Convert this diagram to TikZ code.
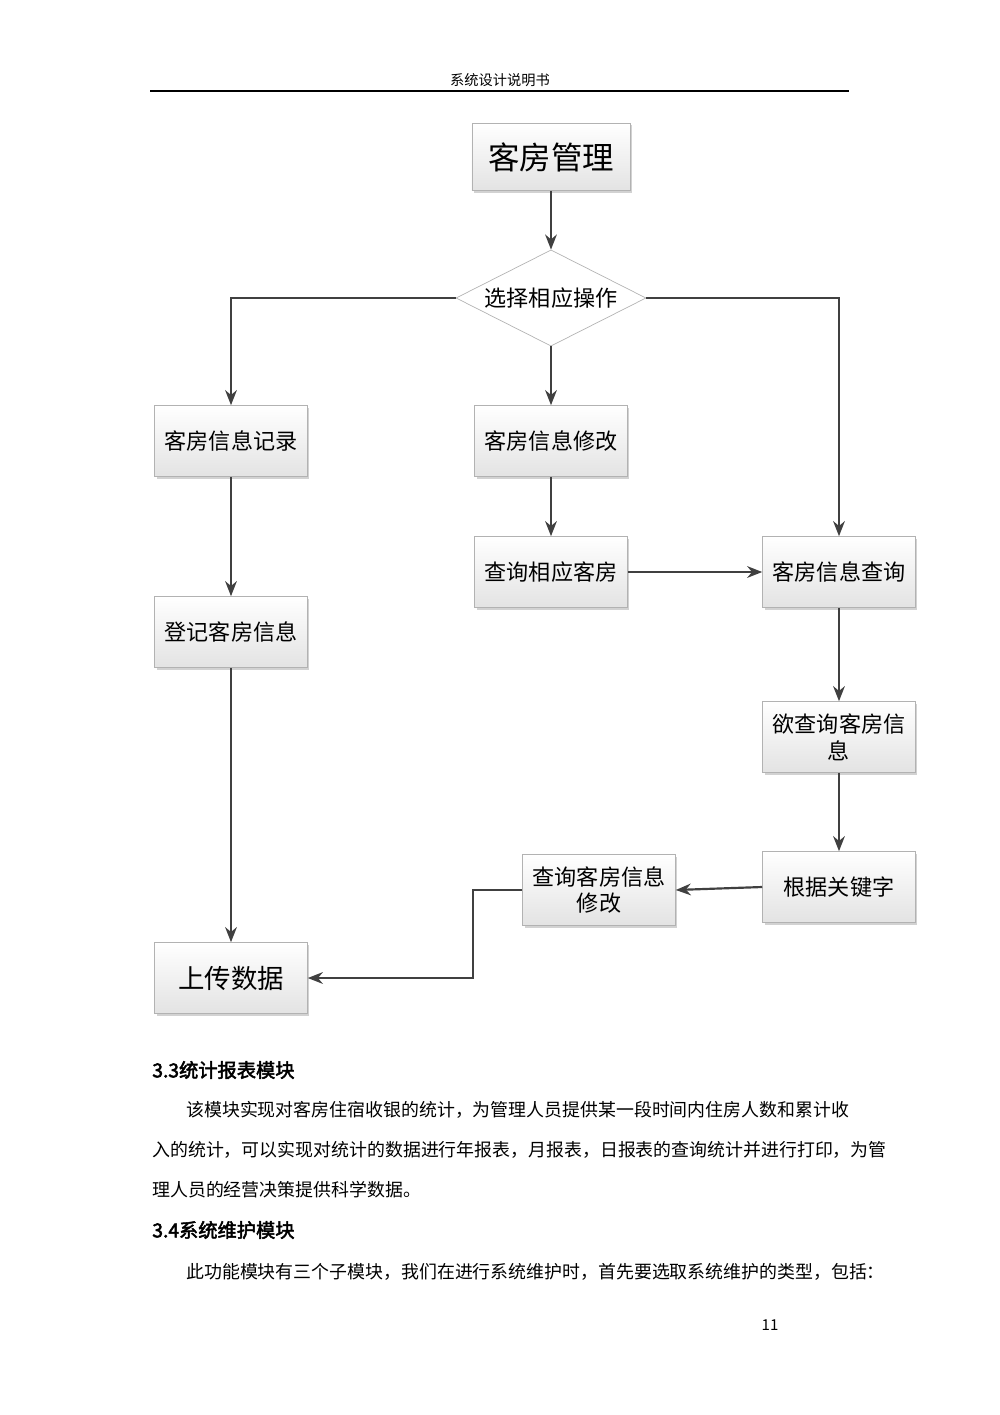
\documentclass[tikz,border=0pt]{standalone}
\usepackage{fontspec}
\setmainfont{Noto Sans CJK SC}[AutoFakeBold=2.5]
\usetikzlibrary{arrows.meta,shapes.geometric,shadows}
\begin{document}
\begin{tikzpicture}[x=0.021cm,y=-0.021cm,
  box/.style={draw=gray!60,top color=white,bottom color=gray!22,minimum width=3.21cm,minimum height=1.49cm,inner sep=1pt,align=center,font=\fontsize{13.2}{16}\selectfont,drop shadow={opacity=0.35,shadow xshift=1.2pt,shadow yshift=-1.2pt}},
  arr/.style={-{Stealth[length=9pt,width=7pt]},draw=black!75,line width=1.3pt},
  body/.style={anchor=west,inner sep=0,font=\fontsize{10.7}{12}\selectfont},
  head/.style={anchor=west,inner sep=0,font=\fontsize{11.5}{12}\selectfont\bfseries}]
\useasboundingbox (0,0) rectangle (1000,1415);
\fill[white] (0,0) rectangle (1000,1415);
\node[font=\fontsize{8.5}{10}\selectfont] (hdr) at (500,80) {系统设计说明书};
\draw[line width=0.8pt] (150,91) -- (849,91);
\node[box,minimum width=3.32cm,minimum height=1.41cm,font=\fontsize{18.8}{22}\selectfont] (a) at (551,157) {客房管理};
\node[diamond,aspect=2,draw=gray!60,fill=white,minimum width=3.99cm,minimum height=2.02cm,inner sep=0,font=\fontsize{13.2}{16}\selectfont] (d) at (551,298) {选择相应操作};
\node[box] (r1) at (231,441) {客房信息记录};
\node[box] (m1) at (551,441) {客房信息修改};
\node[box] (m2) at (551,572) {查询相应客房};
\node[box] (q1) at (839,572) {客房信息查询};
\node[box] (r2) at (231,632) {登记客房信息};
\node[box] (q2) at (839,737) {欲查询客房信\\息};
\node[box] (q3) at (839,887) {根据关键字};
\node[box] (q4) at (599,890) {查询客房信息\\修改};
\node[box,font=\fontsize{15.8}{19}\selectfont] (u) at (231,978) {上传数据};
\draw[arr] (a) -- (d);
\draw[arr] (d.west) -| (r1.north);
\draw[arr] (d.east) -| (q1.north);
\draw[arr] (d) -- (m1);
\draw[arr] (m1) -- (m2);
\draw[arr] (m2) -- (q1);
\draw[arr] (r1) -- (r2);
\draw[arr] (r2) -- (u);
\draw[arr] (q1) -- (q2);
\draw[arr] (q2) -- (q3);
\draw[arr] (q3.west) -- (q4.east);
\draw[arr] (q4.west) -- (473,890) |- (u.east);
\node[head] (h1) at (152,1070) {3.3统计报表模块};
\node[body] (t1) at (186,1110) {该模块实现对客房住宿收银的统计，为管理人员提供某一段时间内住房人数和累计收};
\node[body] (t2) at (152,1150) {入的统计，可以实现对统计的数据进行年报表，月报表，日报表的查询统计并进行打印，为管};
\node[body] (t3) at (152,1190) {理人员的经营决策提供科学数据。};
\node[head] (h2) at (152,1230) {3.4系统维护模块};
\node[body] (t4) at (186,1272) {此功能模块有三个子模块，我们在进行系统维护时，首先要选取系统维护的类型，包括：};
\node[font=\fontsize{9}{10}\selectfont] (pg) at (770,1325) {11};
\end{tikzpicture}
\end{document}
